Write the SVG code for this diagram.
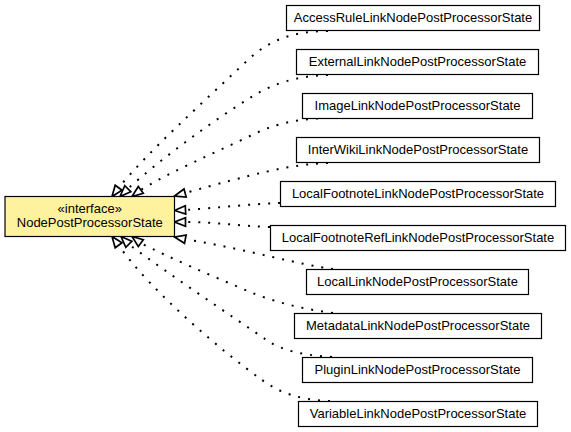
<svg xmlns="http://www.w3.org/2000/svg" width="571" height="432" viewBox="0 0 571 432">
<style>
.box{fill:#ffffff;stroke:#000;stroke-width:1.2}
.main{fill:#fff29e;stroke:#000;stroke-width:1.2}
text{font-family:"Liberation Sans",Arial,sans-serif;font-size:13px;fill:#000;text-anchor:middle}
.edge{fill:none;stroke:#000;stroke-width:2;stroke-dasharray:2,8}
.arrow{fill:#fff;stroke:#000;stroke-width:1.7;stroke-linejoin:miter}
</style>
<rect width="571" height="432" fill="#fff"/>
<g id="edges">
<path class="edge" d="M328,31 C290,31 268,42 250,58 C200,105 150,150 118.6,187.7"/>
<polygon class="arrow" points="112,196.5 115.2,185.2 122,190.2"/>
<path class="edge" d="M328,75 C295,76 275,84 258,93 C210,122 160,160 127.8,188.7"/>
<polygon class="arrow" points="120,196.5 124.8,185.7 130.8,191.7"/>
<path class="edge" d="M328,118 C290,119 270,126 250,136 C210,155 170,172 140.8,189.9"/>
<polygon class="arrow" points="132,196.5 138.3,186.5 143.3,193.3"/>
<path class="edge" d="M328,163 C290,164 250,175 185.1,193"/>
<polygon class="arrow" points="174.5,196 184,189 186.2,197"/>
<path class="edge" d="M280,203 C250,204 215,208 185.5,210"/>
<polygon class="arrow" points="174.5,210.5 185.3,205.75 185.7,214.15"/>
<path class="edge" d="M270,227 C240,226 215,222 185.5,222"/>
<polygon class="arrow" points="174.5,222 185.5,217.8 185.5,226.2"/>
<path class="edge" d="M333,269 C300,265 250,250 185.3,239.2"/>
<polygon class="arrow" points="174.5,237 186.1,235.1 184.5,243.3"/>
<path class="edge" d="M333,313 C295,308 270,300 250,292 C210,275 170,258 140.8,243.1"/>
<polygon class="arrow" points="132,236.5 143.3,239.7 138.3,246.5"/>
<path class="edge" d="M332,357 C300,355 282,350 268,341 C230,315 170,275 128.8,244.3"/>
<polygon class="arrow" points="121,236.5 131.8,241.3 125.8,247.3"/>
<path class="edge" d="M330,401 C300,400 280,393 262,380 C220,350 150,290 118.6,245.3"/>
<polygon class="arrow" points="112,236.5 122,242.8 115.2,247.8"/>
</g>
<g id="NodePostProcessorState">
<rect class="main" x="5" y="196.5" width="169.5" height="40"/>
<text x="89.75" y="213">«interface»</text>
<text x="89.75" y="227">NodePostProcessorState</text>
</g>
<g id="AccessRuleLinkNodePostProcessorState">
<rect class="box" x="286.5" y="5.5" width="253" height="25"/>
<text x="413" y="21.5">AccessRuleLinkNodePostProcessorState</text>
</g>
<g id="ExternalLinkNodePostProcessorState">
<rect class="box" x="296.5" y="49.5" width="242" height="25"/>
<text x="417.5" y="65.5">ExternalLinkNodePostProcessorState</text>
</g>
<g id="ImageLinkNodePostProcessorState">
<rect class="box" x="302.5" y="93.5" width="230" height="25"/>
<text x="417.5" y="109.5">ImageLinkNodePostProcessorState</text>
</g>
<g id="InterWikiLinkNodePostProcessorState">
<rect class="box" x="296.5" y="137.5" width="243" height="25"/>
<text x="418" y="153.5">InterWikiLinkNodePostProcessorState</text>
</g>
<g id="LocalFootnoteLinkNodePostProcessorState">
<rect class="box" x="280.5" y="181.5" width="275" height="25"/>
<text x="418" y="197.5">LocalFootnoteLinkNodePostProcessorState</text>
</g>
<g id="LocalFootnoteRefLinkNodePostProcessorState">
<rect class="box" x="270.5" y="225.5" width="295" height="25"/>
<text x="418" y="241.5">LocalFootnoteRefLinkNodePostProcessorState</text>
</g>
<g id="LocalLinkNodePostProcessorState">
<rect class="box" x="306.5" y="269.5" width="222" height="25"/>
<text x="417.5" y="285.5">LocalLinkNodePostProcessorState</text>
</g>
<g id="MetadataLinkNodePostProcessorState">
<rect class="box" x="294.5" y="313.5" width="247" height="25"/>
<text x="418" y="329.5">MetadataLinkNodePostProcessorState</text>
</g>
<g id="PluginLinkNodePostProcessorState">
<rect class="box" x="302.5" y="357.5" width="230" height="25"/>
<text x="417.5" y="373.5">PluginLinkNodePostProcessorState</text>
</g>
<g id="VariableLinkNodePostProcessorState">
<rect class="box" x="298.5" y="401.5" width="239" height="25"/>
<text x="418" y="417.5">VariableLinkNodePostProcessorState</text>
</g>
</svg>
